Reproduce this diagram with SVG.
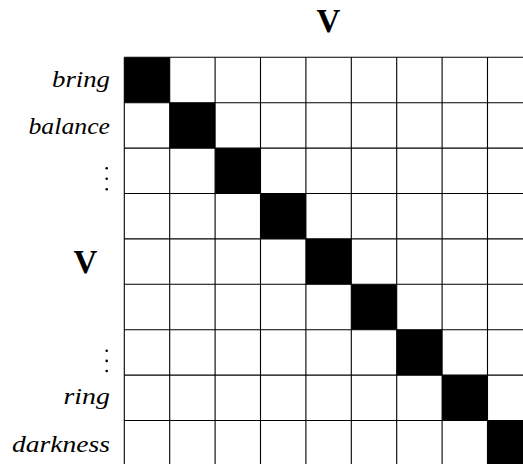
<svg xmlns="http://www.w3.org/2000/svg" width="523" height="464" viewBox="0 0 523 464">
<style>
.lbl{font-family:"Liberation Serif","DejaVu Serif",serif;font-style:italic;font-size:24px;fill:#000;text-anchor:end}
.bold{font-family:"Liberation Serif","DejaVu Serif",serif;font-weight:bold;font-size:33px;fill:#000;text-anchor:middle}
.grid{stroke:#000;stroke-width:1.1;fill:none}
.on{fill:#000}
.dot{fill:#000}
</style>
<rect width="523" height="464" fill="#fff"/>
<g id="matrix">
<g id="diagonal">
<rect class="on" x="124.3" y="57.3" width="45.4" height="45.4"/>
<rect class="on" x="169.7" y="102.7" width="45.4" height="45.4"/>
<rect class="on" x="215.1" y="148.1" width="45.4" height="45.4"/>
<rect class="on" x="260.5" y="193.5" width="45.4" height="45.4"/>
<rect class="on" x="305.9" y="238.9" width="45.4" height="45.4"/>
<rect class="on" x="351.3" y="284.3" width="45.4" height="45.4"/>
<rect class="on" x="396.7" y="329.7" width="45.4" height="45.4"/>
<rect class="on" x="442.1" y="375.1" width="45.4" height="45.4"/>
<rect class="on" x="487.5" y="420.5" width="45.4" height="45.4"/>
</g>
<g id="gridlines">
<path class="grid" d="M124.3 57.3V465.9M169.7 57.3V465.9M215.1 57.3V465.9M260.5 57.3V465.9M305.9 57.3V465.9M351.3 57.3V465.9M396.7 57.3V465.9M442.1 57.3V465.9M487.5 57.3V465.9M532.9 57.3V465.9"/>
<path class="grid" d="M124.3 57.3H532.9M124.3 102.7H532.9M124.3 148.1H532.9M124.3 193.5H532.9M124.3 238.9H532.9M124.3 284.3H532.9M124.3 329.7H532.9M124.3 375.1H532.9M124.3 420.5H532.9M124.3 465.9H532.9"/>
</g>
</g>
<g id="col-label"><text class="bold" x="328.3" y="32">V</text></g>
<g id="row-label"><text class="bold" x="85.5" y="273.3">V</text></g>
<g id="row-bring"><text class="lbl" x="110" y="86.5" textLength="58" lengthAdjust="spacingAndGlyphs">bring</text></g>
<g id="row-balance"><text class="lbl" x="110" y="134" textLength="81.5" lengthAdjust="spacingAndGlyphs">balance</text></g>
<g id="row-vdots1">
<circle class="dot" cx="106.7" cy="168.3" r="1.3"/>
<circle class="dot" cx="106.7" cy="178.8" r="1.3"/>
<circle class="dot" cx="106.7" cy="189.3" r="1.3"/>
</g>
<g id="row-vdots2">
<circle class="dot" cx="106.7" cy="350.7" r="1.3"/>
<circle class="dot" cx="106.7" cy="360.9" r="1.3"/>
<circle class="dot" cx="106.7" cy="371" r="1.3"/>
</g>
<g id="row-ring"><text class="lbl" x="110" y="403.5" textLength="46.5" lengthAdjust="spacingAndGlyphs">ring</text></g>
<g id="row-darkness"><text class="lbl" x="110" y="451.5" textLength="98" lengthAdjust="spacingAndGlyphs">darkness</text></g>
</svg>
